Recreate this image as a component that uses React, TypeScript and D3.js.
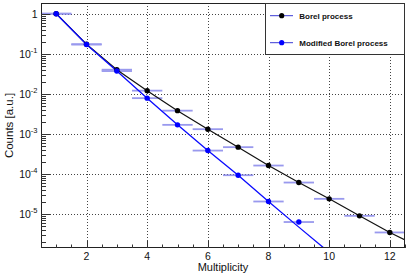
import * as d3 from 'd3';
import React from 'react';

// values (log scale)
const multiplicity = [1, 2, 3, 4, 5, 6, 7, 8, 9, 10, 11, 12];
const borel = [1, 0.173, 0.04, 0.012, 0.0038, 0.00131, 4.66e-4, 1.62e-4, 6.1e-5, 2.39e-5, 9.0e-6, 3.46e-6];
const modifiedBorel = [1, 0.17, 0.037, 0.0078, 0.00168, 3.83e-4, 9.3e-5, 2.05e-5, 6.3e-6];

// drawn curves (fit functions) sampled at a few x values
const borelCurveX = [1, 2, 3, 4, 5, 6, 7, 8, 9, 10, 11, 12, 12.5];
const borelCurveY = [1, 0.173, 0.04, 0.012, 0.0038, 0.00131, 4.66e-4, 1.62e-4, 6.1e-5, 2.39e-5, 9.0e-6, 3.46e-6, 2.26e-6];
const modifiedCurveX = [1, 2, 3, 4, 5, 6, 7, 8, 9, 10];
const modifiedCurveY = [1, 0.17, 0.037, 0.0078, 0.00168, 3.83e-4, 9.3e-5, 2.05e-5, 4.7e-6, 1.1e-6];

const xTicks = [2, 4, 6, 8, 10, 12];
const yDecades = [0, -1, -2, -3, -4, -5];
const seriesNames = ['Borel process', 'Modified Borel process'];

const font = '"Liberation Sans", Arial, Helvetica, sans-serif';
const errColor = '#8080ea';
const legendLine = '#3b3bd4';

export default function App() {
  const W = 407;
  const H = 276;
  const frame = { left: 41, top: 3, right: 405, bottom: 248 };

  const x = d3.scaleLinear().domain([0.5, 12.5]).range([frame.left, frame.right]);
  const y = d3.scaleLog().domain([1.416e-6, 1.85]).range([frame.bottom, frame.top]);

  const line = d3
    .line<[number, number]>()
    .x((d) => x(d[0]))
    .y((d) => y(d[1]));

  const borelPts = multiplicity.map((m, i) => [m, borel[i]] as [number, number]);
  const modPts = modifiedBorel.map((v, i) => [multiplicity[i], v] as [number, number]);
  const borelCurve = borelCurveX.map((v, i) => [v, borelCurveY[i]] as [number, number]);
  const modCurve = modifiedCurveX.map((v, i) => [v, modifiedCurveY[i]] as [number, number]);

  const minorX = d3.range(0.5, 12.51, 0.5).filter((v) => v % 2 !== 0);
  const minorY: number[] = [];
  for (let e = -6; e <= 0; e++) {
    for (let k = 2; k <= 9; k++) {
      const v = k * Math.pow(10, e);
      if (v > y.domain()[0] && v < y.domain()[1]) minorY.push(v);
    }
  }

  const r = (v: number) => Math.round(v) + 0.5;

  return (
    <svg
      width={W}
      height={H}
      style={{ position: 'absolute', left: 0, top: 0, background: '#fff' }}
      fontFamily={font}
    >
      <defs>
        <clipPath id="plot">
          <rect x={frame.left} y={frame.top} width={frame.right - frame.left} height={frame.bottom - frame.top} />
        </clipPath>
      </defs>
      <rect width={W} height={H} fill="#fff" />

      {/* grid */}
      <g stroke="#444" strokeWidth={1} strokeDasharray="1 2">
        {xTicks.map((t) => (
          <line key={`gx-${t}`} x1={r(x(t))} x2={r(x(t))} y1={frame.top} y2={frame.bottom} />
        ))}
        {yDecades.map((e) => (
          <line key={`gy-${e}`} x1={frame.left} x2={frame.right} y1={r(y(Math.pow(10, e)))} y2={r(y(Math.pow(10, e)))} />
        ))}
      </g>

      <g clipPath="url(#plot)">
        {/* x error bars */}
        <g stroke={errColor} strokeWidth={1.8} opacity={0.8}>
          {borelPts.map((d, i) => (
            <line key={`eb-${i}`} x1={x(d[0] - 0.5)} x2={x(d[0] + 0.5)} y1={y(d[1])} y2={y(d[1])} />
          ))}
          {modPts.map((d, i) => (
            <line key={`em-${i}`} x1={x(d[0] - 0.5)} x2={x(d[0] + 0.5)} y1={y(d[1])} y2={y(d[1])} />
          ))}
        </g>
        <path d={line(borelCurve) || ''} fill="none" stroke="#111" strokeWidth={1.2} />
        <path d={line(modCurve) || ''} fill="none" stroke="#0a0aff" strokeWidth={1.3} />
        {borelPts.map((d, i) => (
          <circle key={`pb-${i}`} cx={x(d[0])} cy={y(d[1])} r={2.7} fill="#000" />
        ))}
        {modPts.map((d, i) => (
          <circle key={`pm-${i}`} cx={x(d[0])} cy={y(d[1])} r={2.7} fill="#0000ff" />
        ))}
      </g>

      {/* frame */}
      <rect
        x={frame.left + 0.5}
        y={frame.top + 0.5}
        width={frame.right - frame.left - 1}
        height={frame.bottom - frame.top - 1}
        fill="none"
        stroke="#222"
      />

      {/* ticks */}
      <g stroke="#333">
        {xTicks.map((t) => (
          <line key={`tx-${t}`} x1={r(x(t))} x2={r(x(t))} y1={frame.bottom} y2={frame.bottom - 7} />
        ))}
        {minorX.map((t) => (
          <line key={`mx-${t}`} x1={r(x(t))} x2={r(x(t))} y1={frame.bottom} y2={frame.bottom - 3.5} />
        ))}
        {yDecades.map((e) => (
          <line key={`ty-${e}`} x1={frame.left} x2={frame.left + 9} y1={r(y(Math.pow(10, e)))} y2={r(y(Math.pow(10, e)))} />
        ))}
        {minorY.map((v, i) => (
          <line key={`my-${i}`} x1={frame.left} x2={frame.left + 5} y1={r(y(v))} y2={r(y(v))} />
        ))}
      </g>

      {/* tick labels */}
      <g fontSize={10.5} fill="#111">
        {xTicks.map((t) => (
          <text key={`lx-${t}`} x={x(t)} y={259.5} textAnchor="middle">
            {t}
          </text>
        ))}
        {yDecades.map((e) =>
          e === 0 ? (
            <text key={`ly-${e}`} x={37.5} y={y(1) + 4} textAnchor="end">
              1
            </text>
          ) : (
            <text key={`ly-${e}`} x={37.5} y={y(Math.pow(10, e)) + 4.5} textAnchor="end">
              10
              <tspan fontSize={7.5} dy={-5}>
                {e}
              </tspan>
            </text>
          ),
        )}
      </g>

      {/* axis titles */}
      <text x={(frame.left + frame.right) / 2} y={271} textAnchor="middle" fontSize={11} fill="#111">
        Multiplicity
      </text>
      <text
        transform={`translate(12.5, ${(frame.top + frame.bottom) / 2}) rotate(-90)`}
        textAnchor="middle"
        fontSize={11.5}
        fill="#111"
      >
        Counts [a.u.]
      </text>

      {/* legend */}
      <g>
        <rect x={265.5} y={3.5} width={139} height={51} fill="#fff" stroke="#333" />
        {seriesNames.map((name, i) => {
          const ly = i === 0 ? 15.7 : 42.7;
          return (
            <g key={name}>
              <line x1={270} x2={293} y1={ly} y2={ly} stroke={legendLine} strokeWidth={1} />
              <circle cx={281.7} cy={ly} r={2.6} fill={i === 0 ? '#000' : '#0000ff'} />
              <text x={299.3} y={ly + 3} fontSize={8} fontWeight="bold" fill="#111">
                {name}
              </text>
            </g>
          );
        })}
      </g>
    </svg>
  );
}
